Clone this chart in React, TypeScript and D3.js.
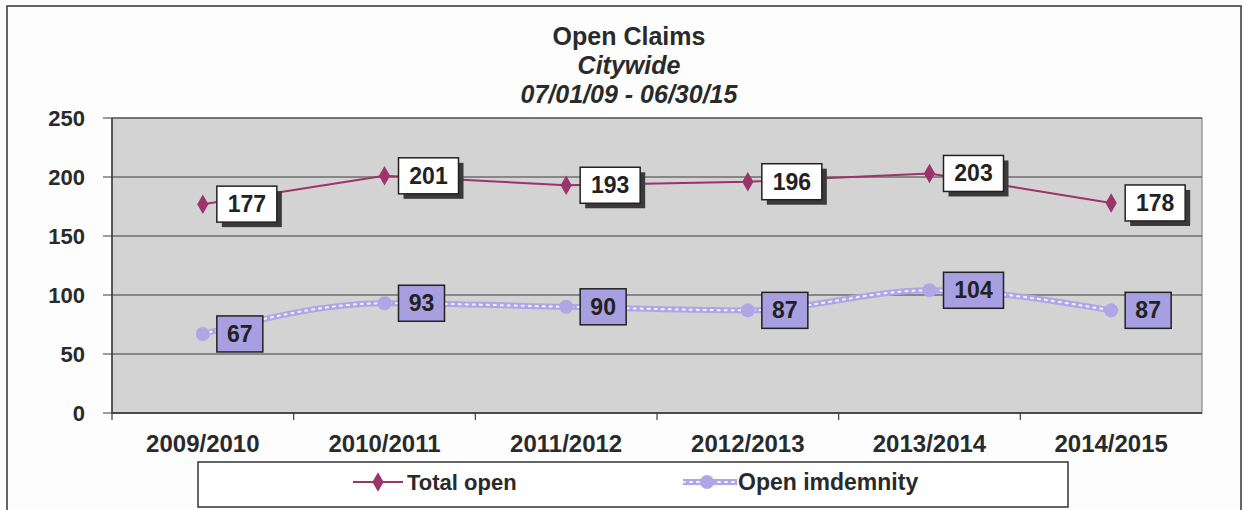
import React from "react";
import * as d3 from "d3";

const years = ["2009/2010", "2010/2011", "2011/2012", "2012/2013", "2013/2014", "2014/2015"];
const totalOpen = [177, 201, 193, 196, 203, 178];
const openIndemnity = [67, 93, 90, 87, 104, 87];
const yTicks = [0, 50, 100, 150, 200, 250];

const W = 1244;
const H = 510;
const margin = {top: 118, right: 42, bottom: 97, left: 112};
const font = "'Liberation Sans', Arial, sans-serif";

export default function App()
{
    const plotW = W - margin.left - margin.right;
    const plotH = H - margin.top - margin.bottom;

    const x = d3.scaleBand().domain(years).range([0, plotW]);
    const y = d3.scaleLinear().domain([0, 250]).range([plotH, 0]);
    const cx = (d: string) => (x(d) as number) + x.bandwidth() / 2;

    const totalLine = d3.line<number>()
        .x((_, i) => cx(years[i]))
        .y((d) => y(d))(totalOpen) as string;

    const indemnityLine = d3.line<number>()
        .curve(d3.curveMonotoneX)
        .x((_, i) => cx(years[i]))
        .y((d) => y(d))(openIndemnity) as string;

    const diamond = d3.symbol().type(d3.symbolDiamond).size(110)() as string;

    const labelBox = (v: number, i: number, fill: string, shadow: boolean, key: string) =>
    {
        const bw = String(v).length === 3 ? 60 : 46;
        const bh = 36;
        const bx = cx(years[i]) + 14;
        const by = y(v) - bh / 2;
        return (
            <g key={key}>
                {shadow && <rect x={bx + 5} y={by + 5} width={bw} height={bh} fill="#3a3a3a"/>}
                <rect x={bx} y={by} width={bw} height={bh} fill={fill} stroke="#222" strokeWidth={1.5}/>
                <text x={bx + bw / 2} y={by + bh / 2 + 8} textAnchor="middle"
                      fontSize={23} fontWeight="bold" fill="#222" fontFamily={font}>{v}</text>
            </g>
        );
    };

    return (
        <svg width={W} height={H} style={{display: "block", position: "absolute", left: 0, top: 0}}>
            <rect x={0} y={0} width={W} height={H} fill="#fdfdfd"/>
            <rect x={7} y={6} width={1234} height={H + 10} fill="none" stroke="#333" strokeWidth={1.5}/>

            <g fontFamily={font} fontWeight="bold" fill="#2a2a2a" textAnchor="middle">
                <text x={629} y={45} fontSize={25}>Open Claims</text>
                <text x={629} y={74} fontSize={25} fontStyle="italic">Citywide</text>
                <text x={629} y={103} fontSize={25} fontStyle="italic">07/01/09 - 06/30/15</text>
            </g>

            <g transform={`translate(${margin.left},${margin.top})`}>
                <rect x={0} y={0} width={plotW} height={plotH} fill="#d3d3d3" stroke="#777" strokeWidth={1}/>
                {yTicks.map((t) => (
                    <g key={t}>
                        <line x1={-9} x2={plotW} y1={y(t)} y2={y(t)} stroke="#3c3c3c" strokeWidth={1.2}/>
                        <text x={-27} y={y(t) + 8} textAnchor="end" fontSize={22} fontWeight="bold"
                              fill="#2a2a2a" fontFamily={font}>{t}</text>
                    </g>
                ))}
                <line x1={0} x2={0} y1={0} y2={plotH} stroke="#3c3c3c" strokeWidth={1.5}/>
                <line x1={0} x2={plotW} y1={plotH} y2={plotH} stroke="#3c3c3c" strokeWidth={1.5}/>
                {years.map((d) => (
                    <g key={d}>
                        <line x1={x(d) as number} x2={x(d) as number} y1={plotH} y2={plotH + 7}
                              stroke="#3c3c3c" strokeWidth={1.2}/>
                        <text x={cx(d)} y={plotH + 39} textAnchor="middle" fontSize={24} fontWeight="bold"
                              fill="#2a2a2a" fontFamily={font}>{d}</text>
                    </g>
                ))}

                {/* indemnity: thick lavender line with white dots */}
                <path d={indemnityLine} fill="none" stroke="#b0a6e6" strokeWidth={6}/>
                <path d={indemnityLine} fill="none" stroke="#f4f2ff" strokeWidth={2}
                      strokeDasharray="2 5" strokeLinecap="round"/>
                {openIndemnity.map((v, i) => (
                    <circle key={i} cx={cx(years[i])} cy={y(v)} r={7} fill="#b0a6e6"/>
                ))}

                <path d={totalLine} fill="none" stroke="#9b3468" strokeWidth={2}/>
                {totalOpen.map((v, i) => (
                    <path key={i} d={diamond} transform={`translate(${cx(years[i])},${y(v)})`} fill="#9b3468"/>
                ))}

                {totalOpen.map((v, i) => labelBox(v, i, "#ffffff", true, "t" + i))}
                {openIndemnity.map((v, i) => labelBox(v, i, "#a79fdf", false, "o" + i))}
            </g>

            {/* legend */}
            <g fontFamily={font}>
                <rect x={198} y={462} width={870} height={45} fill="#ffffff" stroke="#333" strokeWidth={1.5}/>
                <line x1={353} x2={403} y1={482} y2={482} stroke="#9b3468" strokeWidth={2}/>
                <path d={diamond} transform="translate(378,482)" fill="#9b3468"/>
                <text x={407} y={490} fontSize={22} fontWeight="bold" fill="#2a2a2a">Total open</text>
                <line x1={683} x2={737} y1={482} y2={482} stroke="#b0a6e6" strokeWidth={6}/>
                <line x1={683} x2={737} y1={482} y2={482} stroke="#f4f2ff" strokeWidth={2}
                      strokeDasharray="2 5" strokeLinecap="round"/>
                <circle cx={707} cy={482} r={7} fill="#b0a6e6"/>
                <text x={738} y={490} fontSize={23} fontWeight="bold" fill="#2a2a2a">Open imdemnity</text>
            </g>
        </svg>
    );
}
